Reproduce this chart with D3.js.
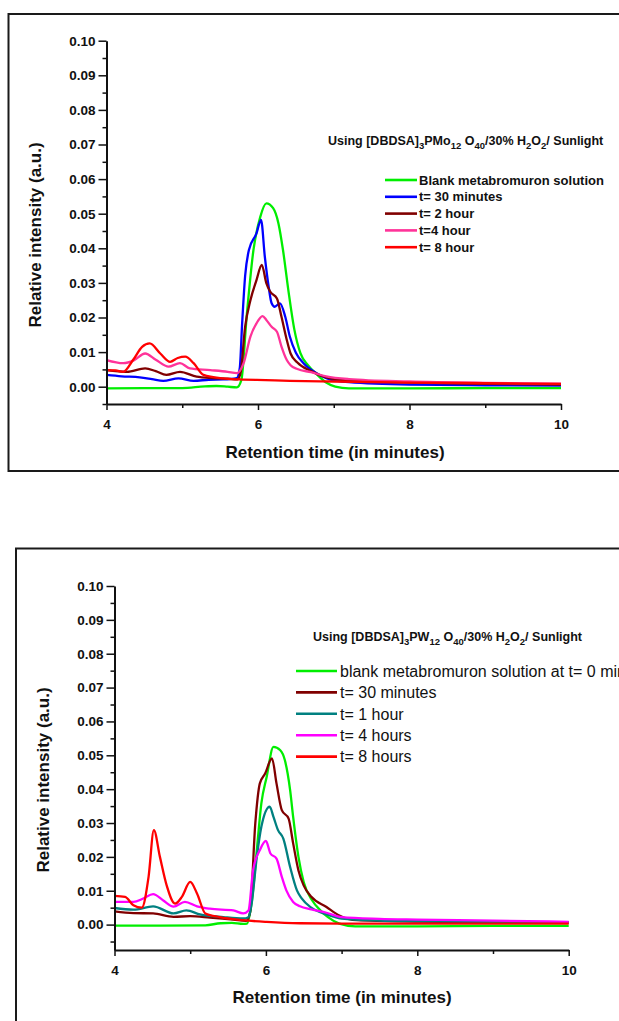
<!DOCTYPE html>
<html>
<head>
<meta charset="utf-8">
<script src="https://cdn.jsdelivr.net/npm/d3@7"></script>
<style>
  html, body { margin: 0; padding: 0; background: #ffffff; }
  svg { display: block; }
  text { font-family: Arial, "Liberation Sans", sans-serif; fill: #111; }
</style>
</head>
<body>
<svg id="chart" width="619" height="1021"></svg>
<script>
// ---------- Panel A: [DBDSA]3PMo12O40 ----------
const panelALabels = ["Blank metabromuron solution", "t= 30 minutes", "t= 2 hour", "t=4 hour", "t= 8 hour"];
const panelAColors = ["#00ee00", "#0000ff", "#800000", "#ff3399", "#ff0000"];

const aBlank = [[4.0,-0.0005],[4.5,-0.0004],[5.0,-0.0004],[5.3,0.0001],[5.45,0.0002],[5.6,0.0],[5.72,-0.0002],[5.78,0.0019],[5.85,0.0202],[5.94,0.0395],[6.03,0.0491],[6.11,0.053],[6.2,0.0516],[6.27,0.0472],[6.33,0.0395],[6.4,0.028],[6.48,0.0165],[6.56,0.0097],[6.66,0.0062],[6.78,0.0035],[6.9,0.0012],[7.02,0.0],[7.2,-0.0005],[8,-0.0005],[9,-0.0004],[10,-0.0004]];
const aT30 = [[4.0,0.0034],[4.2,0.003],[4.44,0.0027],[4.6,0.0022],[4.75,0.0017],[4.95,0.0024],[5.15,0.0017],[5.35,0.002],[5.54,0.0021],[5.72,0.0025],[5.76,0.0055],[5.79,0.018],[5.83,0.032],[5.88,0.0395],[5.98,0.0443],[6.04,0.0482],[6.09,0.0376],[6.14,0.029],[6.18,0.0241],[6.22,0.0231],[6.29,0.0241],[6.36,0.0202],[6.42,0.0145],[6.5,0.0098],[6.6,0.0068],[6.72,0.0046],[6.9,0.0025],[7.2,0.0013],[8,0.0006],[9,0.0004],[10,0.0003]];
const aT2h = [[4.0,0.0048],[4.27,0.0043],[4.51,0.0053],[4.65,0.0045],[4.79,0.0034],[4.97,0.0043],[5.19,0.0029],[5.4,0.0025],[5.6,0.0023],[5.73,0.0021],[5.77,0.004],[5.83,0.0173],[5.9,0.025],[5.98,0.0308],[6.05,0.0352],[6.11,0.0299],[6.16,0.0275],[6.25,0.0255],[6.31,0.0202],[6.38,0.0135],[6.43,0.0096],[6.52,0.007],[6.7,0.0045],[6.9,0.0027],[7.2,0.0018],[8,0.0012],[9,0.0008],[10,0.0006]];
const aT4h = [[4.0,0.0077],[4.22,0.0068],[4.36,0.0076],[4.51,0.0096],[4.65,0.0078],[4.82,0.0058],[4.97,0.0068],[5.1,0.0053],[5.37,0.0048],[5.6,0.0043],[5.72,0.0039],[5.81,0.0068],[5.9,0.0145],[5.98,0.0183],[6.06,0.0204],[6.11,0.0193],[6.18,0.0173],[6.25,0.0159],[6.31,0.0116],[6.38,0.0077],[6.43,0.0062],[6.52,0.0051],[6.7,0.0042],[6.9,0.003],[7.2,0.0022],[8,0.0015],[9,0.0011],[10,0.0009]];
const aT8h = [[4.0,0.0048],[4.12,0.0047],[4.22,0.0043],[4.35,0.0077],[4.47,0.0115],[4.57,0.0125],[4.71,0.0096],[4.84,0.0072],[4.94,0.0083],[5.04,0.0087],[5.15,0.0068],[5.28,0.0034],[5.54,0.0024],[5.76,0.0021],[6.1,0.0019],[6.42,0.0017],[7.0,0.0015],[8,0.0012],[9,0.001],[10,0.0008]];
const panelASeries = [aBlank, aT30, aT2h, aT4h, aT8h];

// ---------- Panel B: [DBDSA]3PW12O40 ----------
const panelBLabels = ["blank metabromuron solution at t= 0 min", "t= 30 minutes", "t= 1 hour", "t= 4 hours", "t= 8 hours"];
const panelBColors = ["#00ee00", "#800000", "#008080", "#ff00ff", "#ff0000"];

const bBlank = [[4.0,-0.0003],[4.6,-0.0003],[5.2,-0.0002],[5.4,0.0004],[5.55,0.0005],[5.7,0.0002],[5.75,0.0003],[5.81,0.0062],[5.88,0.022],[5.94,0.0358],[6.01,0.0436],[6.1,0.0525],[6.19,0.0515],[6.25,0.0486],[6.32,0.0397],[6.36,0.0318],[6.43,0.02],[6.5,0.0125],[6.61,0.0072],[6.72,0.0042],[6.82,0.0022],[6.97,0.0003],[7.18,-0.0005],[8,-0.0005],[9,-0.0004],[10,-0.0004]];
const bT30 = [[4.0,0.0039],[4.25,0.0034],[4.51,0.0033],[4.78,0.0023],[5.0,0.0025],[5.26,0.0021],[5.57,0.0015],[5.74,0.0011],[5.79,0.0035],[5.86,0.0299],[5.92,0.0417],[5.99,0.0446],[6.08,0.0491],[6.14,0.0417],[6.21,0.0338],[6.3,0.0313],[6.36,0.024],[6.43,0.016],[6.5,0.0115],[6.6,0.0082],[6.8,0.0052],[6.97,0.0027],[7.2,0.0013],[8,0.0009],[9,0.0007],[10,0.0006]];
const bT1h = [[4.0,0.0049],[4.25,0.0044],[4.51,0.0054],[4.78,0.0033],[4.95,0.0042],[5.13,0.003],[5.44,0.0022],[5.7,0.0018],[5.77,0.0022],[5.81,0.006],[5.88,0.02],[5.94,0.0289],[6.05,0.0348],[6.1,0.0318],[6.16,0.0279],[6.23,0.0254],[6.32,0.017],[6.41,0.0101],[6.47,0.0078],[6.6,0.005],[6.8,0.003],[7.0,0.0018],[7.5,0.0012],[8,0.001],[9,0.0008],[10,0.0007]];
const bT4h = [[4.0,0.0067],[4.25,0.0067],[4.38,0.0077],[4.51,0.009],[4.64,0.0072],[4.78,0.0053],[4.93,0.0067],[5.09,0.0054],[5.26,0.0047],[5.57,0.0042],[5.7,0.0033],[5.77,0.0042],[5.83,0.016],[5.92,0.022],[6.0,0.0247],[6.06,0.021],[6.14,0.0195],[6.21,0.0141],[6.27,0.0101],[6.36,0.0067],[6.45,0.0054],[6.6,0.0045],[6.8,0.0035],[7.0,0.0022],[7.5,0.0017],[8,0.0015],[9,0.0012],[10,0.0008]];
const bT8h = [[4.0,0.0085],[4.14,0.0082],[4.25,0.0057],[4.36,0.005],[4.45,0.0141],[4.52,0.0279],[4.6,0.02],[4.69,0.0115],[4.8,0.0062],[4.89,0.0082],[5.0,0.0126],[5.09,0.0092],[5.2,0.0033],[5.39,0.0022],[5.7,0.0013],[6.01,0.0008],[6.45,0.0004],[7.0,0.0003],[8,0.0003],[9,0.0003],[10,0.0003]];
const panelBSeries = [bBlank, bT30, bT1h, bT4h, bT8h];

// Axis tick values
const xMajorTicks = [4, 6, 8, 10];
const xMinorTicks = [5, 7, 9];
const yMajorTicks = [0.00, 0.01, 0.02, 0.03, 0.04, 0.05, 0.06, 0.07, 0.08, 0.09, 0.10];
const yMinorTicks = [-0.005, 0.005, 0.015, 0.025, 0.035, 0.045, 0.055, 0.065, 0.075, 0.085, 0.095];

// Annotation titles (text runs, second value marks subscripts)
const panelATitle = [["Using [DBDSA]", 0], ["3", 1], ["PMo", 0], ["12", 1], [" O", 0], ["40", 1], ["/30% H", 0], ["2", 1], ["O", 0], ["2", 1], ["/ Sunlight", 0]];
const panelBTitle = [["Using [DBDSA]", 0], ["3", 1], ["PW", 0], ["12", 1], [" O", 0], ["40", 1], ["/30% H", 0], ["2", 1], ["O", 0], ["2", 1], ["/ Sunlight", 0]];

const svg = d3.select("#chart");

function drawPanel(cfg) {
  const g = svg.append("g");

  // outer frame
  g.append("rect")
    .attr("x", cfg.frame[0]).attr("y", cfg.frame[1])
    .attr("width", cfg.frame[2]).attr("height", cfg.frame[3])
    .attr("fill", "none").attr("stroke", "#1a1a1a").attr("stroke-width", 2);

  const x = d3.scaleLinear().domain([4, 10]).range(cfg.xRange);
  const y = d3.scaleLinear().domain(cfg.yDomain).range(cfg.yRange);

  // curves
  const line = d3.line()
    .x(d => x(d[0])).y(d => y(d[1]))
    .curve(d3.curveMonotoneX);
  cfg.series.forEach((s, i) => {
    g.append("path")
      .datum(s)
      .attr("d", line)
      .attr("fill", "none")
      .attr("stroke", cfg.colors[i])
      .attr("stroke-width", 2.3)
      .attr("stroke-linejoin", "round");
  });

  // y axis (minor first, then major)
  g.append("g")
    .attr("transform", `translate(${cfg.xRange[0]},0)`)
    .call(d3.axisLeft(y).tickValues(yMinorTicks).tickSize(4).tickFormat(""))
    .call(a => a.select(".domain").remove())
    .call(a => a.selectAll("line").attr("stroke", "#111").attr("stroke-width", 1.5));
  const ya = g.append("g")
    .attr("transform", `translate(${cfg.xRange[0]},0)`)
    .call(d3.axisLeft(y).tickValues(yMajorTicks).tickSize(8).tickSizeOuter(0).tickPadding(3).tickFormat(d3.format(".2f")));
  ya.select(".domain").attr("stroke", "#111").attr("stroke-width", 2);
  ya.selectAll("line").attr("stroke", "#111").attr("stroke-width", 1.5);
  ya.selectAll("text").attr("font-size", 13.5).attr("font-weight", "bold")
    .attr("font-family", "Arial, 'Liberation Sans', sans-serif").attr("fill", "#111");

  // x axis
  g.append("g")
    .attr("transform", `translate(0,${cfg.yRange[0]})`)
    .call(d3.axisBottom(x).tickValues(xMinorTicks).tickSize(4).tickFormat(""))
    .call(a => a.select(".domain").remove())
    .call(a => a.selectAll("line").attr("stroke", "#111").attr("stroke-width", 1.5));
  const xa = g.append("g")
    .attr("transform", `translate(0,${cfg.yRange[0]})`)
    .call(d3.axisBottom(x).tickValues(xMajorTicks).tickSize(6).tickSizeOuter(0).tickPadding(9).tickFormat(d3.format("d")));
  xa.select(".domain").attr("stroke", "#111").attr("stroke-width", 2);
  xa.selectAll("line").attr("stroke", "#111").attr("stroke-width", 1.5);
  xa.selectAll("text").attr("font-size", 13.5).attr("font-weight", "bold")
    .attr("font-family", "Arial, 'Liberation Sans', sans-serif").attr("fill", "#111");

  // axis titles
  g.append("text")
    .attr("x", cfg.xTitle[0]).attr("y", cfg.xTitle[1])
    .attr("text-anchor", "middle")
    .attr("font-size", 17).attr("font-weight", "bold")
    .text("Retention time (in minutes)");
  g.append("text")
    .attr("transform", `translate(${cfg.yTitle[0]},${cfg.yTitle[1]}) rotate(-90)`)
    .attr("text-anchor", "middle")
    .attr("font-size", 17).attr("font-weight", "bold")
    .text("Relative intensity (a.u.)");

  // annotation with subscripts
  const t = g.append("text")
    .attr("x", cfg.title[0]).attr("y", cfg.title[1])
    .attr("font-size", 12.5).attr("font-weight", "bold");
  let lowered = false;
  cfg.titleRuns.forEach(([txt, sub]) => {
    const sp = t.append("tspan").text(txt);
    if (sub && !lowered) { sp.attr("dy", 4).attr("font-size", 9.5); lowered = true; }
    else if (sub) { sp.attr("font-size", 9.5); }
    else if (!sub && lowered) { sp.attr("dy", -4); lowered = false; }
  });

  // legend
  const lg = g.append("g");
  cfg.labels.forEach((lab, i) => {
    const yy = cfg.legend.y0 + i * cfg.legend.step;
    lg.append("line")
      .attr("x1", cfg.legend.x1).attr("x2", cfg.legend.x2)
      .attr("y1", yy).attr("y2", yy)
      .attr("stroke", cfg.colors[i]).attr("stroke-width", 2.6);
    lg.append("text")
      .attr("x", cfg.legend.tx).attr("y", yy)
      .attr("dy", "0.36em")
      .attr("font-size", cfg.legend.fs)
      .attr("font-weight", cfg.legend.fw)
      .text(lab);
  });
}

drawPanel({
  frame: [8.5, 14, 640, 457],
  xRange: [106.5, 561],
  yDomain: [-0.005, 0.10],
  yRange: [404, 40.7],
  series: panelASeries,
  colors: panelAColors,
  labels: panelALabels,
  xTitle: [335, 457.5],
  yTitle: [41, 235],
  title: [328, 145],
  titleRuns: panelATitle,
  legend: { y0: 180, step: 16.8, x1: 385, x2: 417, tx: 419, fs: 13, fw: "bold" }
});

drawPanel({
  frame: [16, 548.5, 640, 600],
  xRange: [114.5, 568.7],
  yDomain: [-0.0075, 0.10],
  yRange: [950, 586],
  series: panelBSeries,
  colors: panelBColors,
  labels: panelBLabels,
  xTitle: [342, 1002.5],
  yTitle: [49, 780],
  title: [313, 641],
  titleRuns: panelBTitle,
  legend: { y0: 671, step: 21.4, x1: 296, x2: 337, tx: 340, fs: 16, fw: "normal" }
});
</script>
</body>
</html>
